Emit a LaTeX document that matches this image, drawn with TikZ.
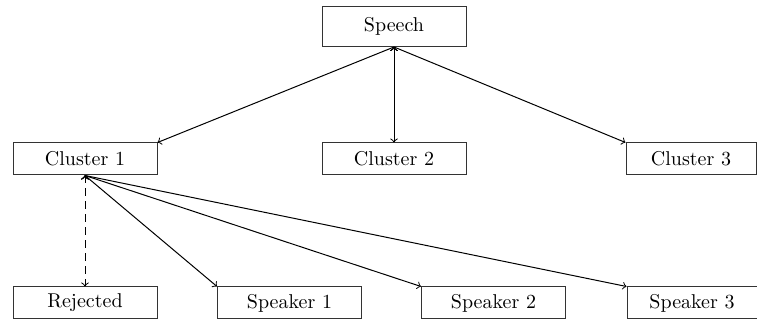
\documentclass[tikz,border=0pt]{standalone}
\begin{document}
\begin{tikzpicture}[x=0.5pt,y=-0.5pt,->,line width=0.5pt]
        \tikzstyle{root}=[rectangle,draw=black!80,minimum width=72pt,minimum height=20pt,inner sep=0pt]
        \tikzstyle{box}=[rectangle,draw=black!80,minimum width=72pt,minimum height=16pt,inner sep=0pt]
        \tikzstyle{edge}=[draw=black]
       \begin{scope}
         \useasboundingbox (0,0) rectangle (757,320);

         \node [root] (speech) at (394,26.5) {Speech};
         \node [box] (c1) at (85,159) {Cluster 1};
         \node [box] (c2) at (394,159) {Cluster 2};
         \node [box,minimum width=65pt] (c3) at (691,159) {Cluster 3};
         \node [box] (rej) at (85,303) {Rejected};
         \node [box] (sp1) at (289.5,303) {Speaker 1};
         \node [box] (sp2) at (493.5,303) {Speaker 2};
         \node [box,minimum width=65pt] (sp3) at (692,303) {Speaker 3};

 		\path[edge] (speech.south) edge (c1.north east);
 		\path[edge] (speech.south) edge (c2.north);
 		\path[edge] (speech.south) edge (c3.north west);
 		\path[edge] (c1.south) edge [dash pattern=on 4pt off 2.5pt] (rej.north);
 		\path[edge] (c1.south) edge (sp1.north west);
 		\path[edge] (c1.south) edge (sp2.north west);
 		\path[edge] (c1.south) edge (sp3.north west);

        \end{scope}
      \end{tikzpicture}
\end{document}
